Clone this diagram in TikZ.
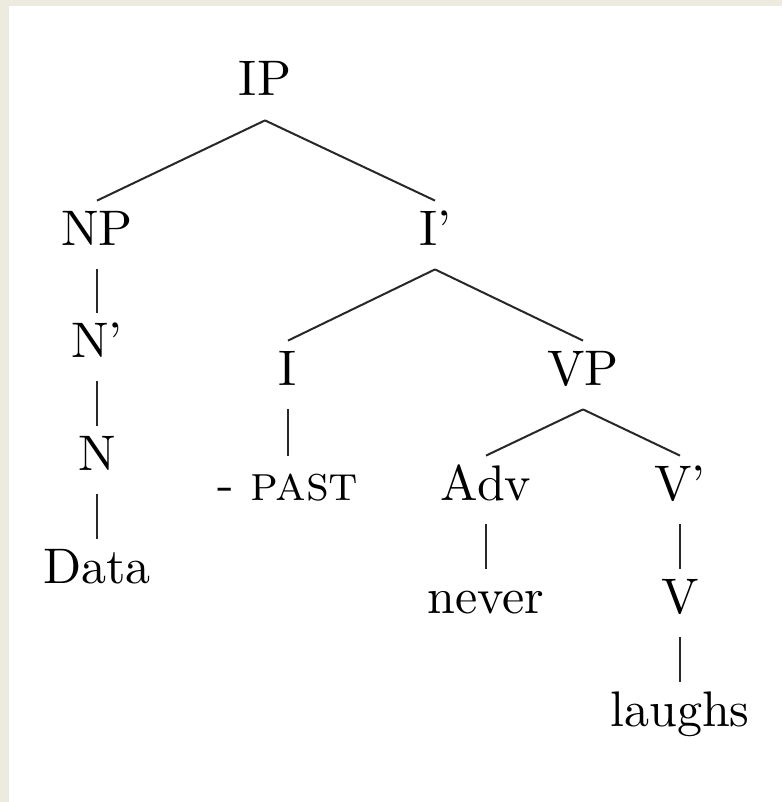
\documentclass[tikz,border=0pt]{standalone}
\usepackage{fontspec}
\setmainfont{lmroman10-regular.otf}[SmallCapsFont=lmromancaps10-regular.otf]
\usepackage{tikz}
\usetikzlibrary{positioning}
\definecolor{frame}{RGB}{237,234,224}
\definecolor{ink}{RGB}{40,40,40}

\begin{document}
\begin{tikzpicture}[x=0.5pt,y=-0.5pt,
  lab/.style={anchor=base,inner xsep=0pt,inner ysep=5pt,
    text height=17pt,text depth=7pt,font=\fontsize{25}{30}\selectfont},
  edge/.style={ink,line width=1pt}]
% page and frame
\useasboundingbox (0,0) rectangle (782,802);
\fill[frame] (0,0) rectangle (782,802);
\fill[white] (9,6) rectangle (782,802);
% tree nodes
\node[lab] (IP) at (265,96) {IP};
\node[lab] (NP) at (97,245) {NP};
\node[lab] (Ibar) at (435,245) {I'};
\node[lab] (Nbar) at (97,357) {N'};
\node[lab] (N) at (97,470) {N};
\node[lab] (Data) at (97,583) {Data};
\node[lab] (I) at (288,385) {I};
\node[lab] (past) at (288,500) {- \textsc{past}};
\node[lab] (VP) at (583,385) {VP};
\node[lab] (Adv) at (486,500) {Adv};
\node[lab] (never) at (486,613) {never};
\node[lab] (Vbar) at (680,500) {V'};
\node[lab] (V) at (680,613) {V};
\node[lab] (laughs) at (680,726) {laughs};
% branches
\foreach \a/\b in {IP/NP,IP/Ibar,NP/Nbar,Nbar/N,N/Data,Ibar/I,Ibar/VP,
  I/past,VP/Adv,VP/Vbar,Adv/never,Vbar/V,V/laughs}
  \draw[edge] (\a.south)--(\b.north);
\end{tikzpicture}
\end{document}
